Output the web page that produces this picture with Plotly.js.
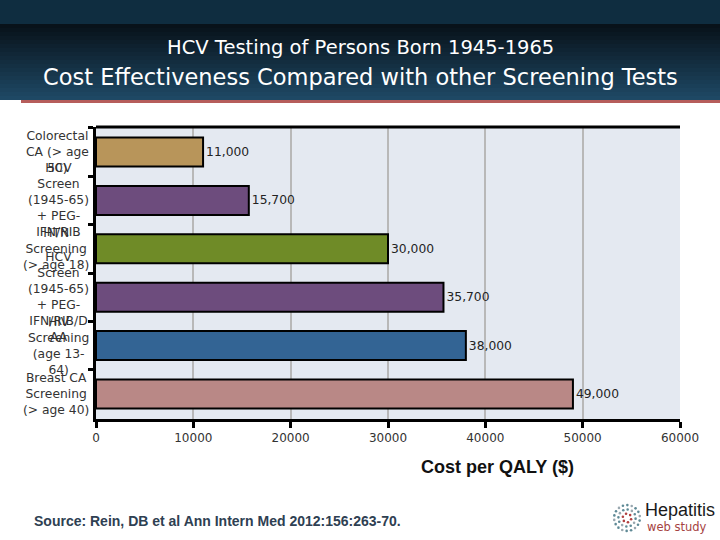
<!DOCTYPE html>
<html>
<head>
<meta charset="utf-8">
<script src="https://cdn.plot.ly/plotly-3.0.1.min.js"></script>
<style>html,body{margin:0;padding:0;background:#fff;}#chart{width:720px;height:540px;}</style>
</head>
<body>
<div id="chart"></div>
<script>
// ---- data ----
const categories = [
  "Colorectal<br>CA (> age<br>50)",
  "HCV<br>Screen<br>(1945-65)<br>+ PEG-<br>IFN/RIB",
  "HTN<br>Screening<br>(> age 18)",
  "HCV<br>Screen<br>(1945-65)<br>+ PEG-<br>IFN/RIB/D<br>AA",
  "HIV<br>Screening<br>(age 13-<br>64)",
  "Breast CA<br>Screening<br>(> age 40)"
];
const costPerQaly = [11000, 15700, 30000, 35700, 38000, 49000];
const barColors = ["#b8955a", "#6d4c7d", "#6f8b27", "#6d4c7d", "#336494", "#b98886"];
const xTicks = [0, 10000, 20000, 30000, 40000, 50000, 60000];
const titleLine1 = "HCV Testing of Persons Born 1945-1965";
const titleLine2 = "Cost Effectiveness Compared with other Screening Tests";
const xTitle = "Cost per QALY ($)";
const sourceText = "Source: Rein, DB et al Ann Intern Med 2012:156:263-70.";

// ---- layout geometry (pixels) ----
const L = 96, R = 680, T = 127, B = 419, W = 720, H = 540;
const px = x => (x - L) / (R - L);
const py = y => (B - y) / (B - T);
const SANS = "DejaVu Sans, Verdana, sans-serif";
const ARIAL = "Liberation Sans, Arial, sans-serif";

const shapes = [];
// header top band
shapes.push({type:"rect", xref:"paper", yref:"paper", x0:px(0), x1:px(W), y0:py(24), y1:py(0), fillcolor:"#0f2d40", line:{width:0}, layer:"below"});
// gradient band
const c0 = [8, 18, 26], c1 = [30, 72, 100];
const steps = 19;
for (let i = 0; i < steps; i++) {
  const t = i / (steps - 1);
  const c = c0.map((v, k) => Math.round(v + (c1[k] - v) * t));
  const ya = 24 + i * 4, yb = ya + 4;
  shapes.push({type:"rect", xref:"paper", yref:"paper", x0:px(0), x1:px(W), y0:py(yb), y1:py(ya),
    fillcolor:`rgb(${c[0]},${c[1]},${c[2]})`, line:{width:0}, layer:"below"});
}
// red rule under header
shapes.push({type:"rect", xref:"paper", yref:"paper", x0:px(21), x1:px(W), y0:py(103), y1:py(100), fillcolor:"#b65d5b", line:{width:0}, layer:"below"});
// top border of plot
shapes.push({type:"line", xref:"paper", yref:"paper", x0:0, x1:1, y0:1, y1:1, line:{color:"#000", width:3}});

// logo dots
const cx = 627, cy = 518;
for (let r = 1; r <= 3; r++) {
  const n = r * 6;
  for (let k = 0; k < n; k++) {
    const a = 2 * Math.PI * k / n + r * 0.3;
    const x = cx + Math.cos(a) * r * 4.3, y = cy + Math.sin(a) * r * 4.3;
    const col = r === 1 ? "#b04040" : (k % 3 === 0 ? "#9aa8b0" : "#5f8a96");
    shapes.push({type:"circle", xref:"paper", yref:"paper", x0:px(x - 1.3), x1:px(x + 1.3), y0:py(y + 1.3), y1:py(y - 1.3), fillcolor:col, line:{width:0}});
  }
}

const annotations = categories.map(c => ({
  xref:"paper", yref:"y", x:px(91), y:c, text:c, showarrow:false,
  xanchor:"right", yanchor:"middle", align:"center",
  font:{family:SANS, size:12.3, color:"#333"}
}));
annotations.push(
  {xref:"paper", yref:"paper", x:px(360), y:py(48), text:titleLine1, showarrow:false, xanchor:"center", yanchor:"middle",
   font:{family:SANS, size:19.5, color:"#ffffff"}},
  {xref:"paper", yref:"paper", x:px(360), y:py(77), text:titleLine2, showarrow:false, xanchor:"center", yanchor:"middle",
   font:{family:SANS, size:22.5, color:"#ffffff"}},
  {xref:"paper", yref:"paper", x:px(497), y:py(467), text:"<b>" + xTitle + "</b>", showarrow:false, xanchor:"center", yanchor:"middle",
   font:{family:ARIAL, size:18, color:"#111"}},
  {xref:"paper", yref:"paper", x:px(32), y:py(521), text:"<b>" + sourceText + "</b>", showarrow:false, xanchor:"left", yanchor:"middle",
   font:{family:ARIAL, size:14, color:"#2e4052"}},
  {xref:"paper", yref:"paper", x:px(643), y:py(510), text:"Hepatitis", showarrow:false, xanchor:"left", yanchor:"middle",
   font:{family:ARIAL, size:18, color:"#1a1a1a"}},
  {xref:"paper", yref:"paper", x:px(709), y:py(527), text:"web study", showarrow:false, xanchor:"right", yanchor:"middle",
   font:{family:SANS, size:11.5, color:"#a5423f"}}
);

const trace = {
  type:"bar", orientation:"h",
  x: costPerQaly, y: categories,
  width: 0.6,
  marker:{color: barColors, line:{color:"#000", width:2}},
  texttemplate:"%{x:,.0f}", textposition:"outside", cliponaxis:false,
  textfont:{family:SANS, size:12.3, color:"#222"},
  hoverinfo:"skip"
};

const layout = {
  width:W, height:H,
  margin:{l:L, r:W - R, t:T, b:H - B, pad:0},
  paper_bgcolor:"#ffffff", plot_bgcolor:"#e4e9f1",
  showlegend:false,
  xaxis:{
    range:[0, 60000], tickvals:xTicks, tickformat:"d",
    showgrid:true, gridcolor:"#b8b8b8", gridwidth:2, zeroline:false,
    showline:true, linecolor:"#000", linewidth:3,
    ticks:"outside", ticklen:6, tickwidth:3, tickcolor:"#000",
    tickfont:{family:SANS, size:12, color:"#333"}
  },
  yaxis:{
    type:"category", categoryorder:"array", categoryarray:categories,
    autorange:"reversed", showticklabels:false, showgrid:false, zeroline:false,
    showline:true, linecolor:"#000", linewidth:3,
    ticks:"outside", tickson:"boundaries", ticklen:5, tickwidth:3, tickcolor:"#000"
  },
  shapes: shapes,
  annotations: annotations
};

Plotly.newPlot("chart", [trace], layout, {staticPlot:true, displayModeBar:false});
</script>
</body>
</html>
